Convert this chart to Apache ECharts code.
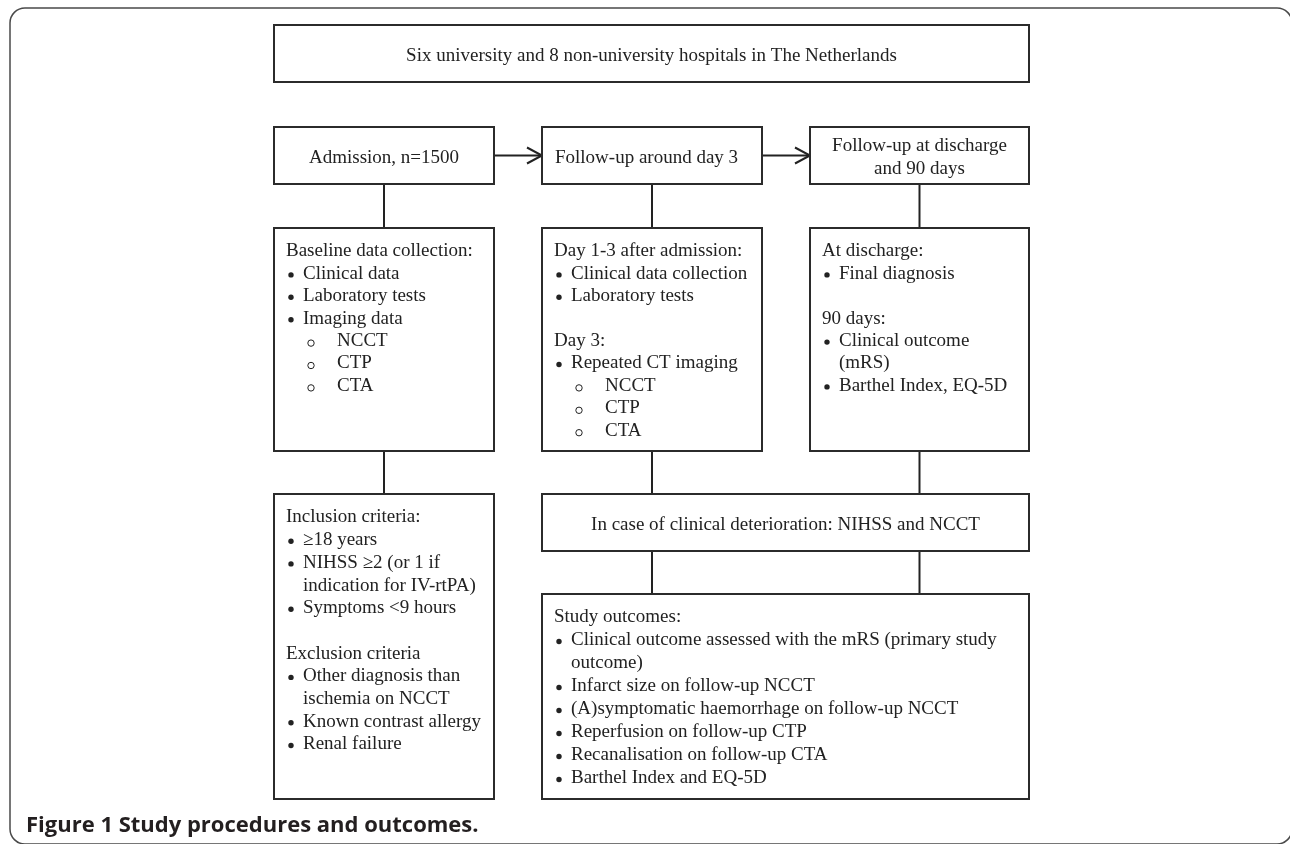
<!DOCTYPE html>
<html><head><meta charset="utf-8">
<script src="https://cdn.jsdelivr.net/npm/echarts@6/dist/echarts.min.js"></script>
<style>html,body{margin:0;padding:0;background:#fff}#c{width:1290px;height:844px}</style>
</head><body><div id="c"></div>
<script>
// ---- text content ----
const captionText = 'Figure 1 Study procedures and outcomes.';
const topText = ['Six university and 8 non-university hospitals in The Netherlands'];
const admissionText = ['Admission, n=1500'];
const day3Title = ['Follow-up around day 3'];
const dischargeTitle = ['Follow-up at discharge', 'and 90 days'];
const baselineLines = [['h','Baseline data collection:'],['b','Clinical data'],['b','Laboratory tests'],['b','Imaging data'],['s','NCCT'],['s','CTP'],['s','CTA']];
const day3Lines = [['h','Day 1-3 after admission:'],['b','Clinical data collection'],['b','Laboratory tests'],['x',''],['h','Day 3:'],['b','Repeated CT imaging'],['s','NCCT'],['s','CTP'],['s','CTA']];
const dischargeLines = [['h','At discharge:'],['b','Final diagnosis'],['x',''],['h','90 days:'],['b','Clinical outcome'],['c','(mRS)'],['b','Barthel Index, EQ-5D']];
const inclusionLines = [['h','Inclusion criteria:'],['b','\u226518 years'],['b','NIHSS \u22652 (or 1 if'],['c','indication for IV-rtPA)'],['b','Symptoms <9 hours'],['x',''],['h','Exclusion criteria'],['b','Other diagnosis than'],['c','ischemia on NCCT'],['b','Known contrast allergy'],['b','Renal failure']];
const deteriorationText = ['In case of clinical deterioration: NIHSS and NCCT'];
const outcomeLines = [['h','Study outcomes:'],['b','Clinical outcome assessed with the mRS (primary study'],['c','outcome)'],['b','Infarct size on follow-up NCCT'],['b','(A)symptomatic haemorrhage on follow-up NCCT'],['b','Reperfusion on follow-up CTP'],['b','Recanalisation on follow-up CTA'],['b','Barthel Index and EQ-5D']];

// ---- layout (separate from content) ----
const boxLayout = [
  [274, 25, 1029, 82],
  [274, 127, 494, 184],
  [542, 127, 762, 184],
  [810, 127, 1029, 184],
  [274, 228, 494, 451],
  [542, 228, 762, 451],
  [810, 228, 1029, 451],
  [274, 494, 494, 799],
  [542, 494, 1029, 551],
  [542, 594, 1029, 799]
];
const boxContent = [
  {mode:'center', lines: topText, lh: 23},
  {mode:'center', lines: admissionText, lh: 23},
  {mode:'left', lines: day3Title, lh: 23},
  {mode:'center', lines: dischargeTitle, lh: 23},
  {mode:'list', lines: baselineLines, lh: 22.4},
  {mode:'list', lines: day3Lines, lh: 22.4},
  {mode:'list', lines: dischargeLines, lh: 22.4},
  {mode:'list', lines: inclusionLines, lh: 22.7},
  {mode:'center', lines: deteriorationText, lh: 23},
  {mode:'list', lines: outcomeLines, lh: 23}
];
// edges: [from, to, kind(0 vertical,1 arrow), column box for x]
const edges = [
  [1, 2, 1, 1], [2, 3, 1, 2],
  [1, 4, 0, 4], [2, 5, 0, 5], [3, 6, 0, 6],
  [4, 7, 0, 4], [5, 8, 0, 5], [6, 8, 0, 6],
  [8, 9, 0, 5], [8, 9, 0, 6]
];

const SERIF = '"Liberation Serif", "Times New Roman", serif';
const FS = 19;
const INK = '#222';
const DY = 2.5;

function txt(text, x, y, align) {
  return {type:'text', style: {text: text, x: x, y: y + DY, fill: INK,
    fontSize: FS, fontFamily: SERIF, align: align, verticalAlign: 'middle'}};
}

function renderBox(params, api) {
  const i = api.value(4);
  const p0 = api.coord([api.value(0), api.value(1)]);
  const p1 = api.coord([api.value(2), api.value(3)]);
  const x0 = Math.min(p0[0], p1[0]), y0 = Math.min(p0[1], p1[1]);
  const w = Math.abs(p1[0] - p0[0]), h = Math.abs(p1[1] - p0[1]);
  const children = [{type:'rect', shape:{x:x0, y:y0, width:w, height:h},
    style:{fill:'#fff', stroke:'#2b2b2b', lineWidth:2}}];
  const c = boxContent[i];
  const n = c.lines.length;
  if (c.mode === 'center' || c.mode === 'left') {
    c.lines.forEach(function (t, k) {
      const y = y0 + h / 2 + (k - (n - 1) / 2) * c.lh;
      if (c.mode === 'center') children.push(txt(t, x0 + w / 2, y, 'center'));
      else children.push(txt(t, x0 + 13, y, 'left'));
    });
  } else {
    c.lines.forEach(function (ln, k) {
      const y = y0 + 21 + k * c.lh;
      const kind = ln[0], t = ln[1];
      if (kind === 'h') children.push(txt(t, x0 + 12, y, 'left'));
      else if (kind === 'b') {
        children.push({type:'circle', shape:{cx:x0 + 17, cy:y + DY + 1, r:2.7}, style:{fill:INK}});
        children.push(txt(t, x0 + 29, y, 'left'));
      } else if (kind === 'c') children.push(txt(t, x0 + 29, y, 'left'));
      else if (kind === 's') {
        children.push({type:'circle', shape:{cx:x0 + 37, cy:y + DY + 2, r:3.2}, style:{fill:'none', stroke:INK, lineWidth:1}});
        children.push(txt(t, x0 + 63, y, 'left'));
      }
    });
  }
  return {type:'group', children: children};
}

function renderEdge(params, api) {
  const a = boxLayout[api.value(0)], b = boxLayout[api.value(1)];
  const kind = api.value(2), col = boxLayout[api.value(3)];
  const style = {stroke:'#222', lineWidth:2, fill:'none'};
  if (kind === 0) {
    const x = (col[0] + col[2]) / 2;
    const s = api.coord([x, a[3]]), e = api.coord([x, b[1]]);
    return {type:'line', shape:{x1:s[0], y1:s[1], x2:e[0], y2:e[1]}, style: style};
  }
  const y = (a[1] + a[3]) / 2;
  const s = api.coord([a[2], y]), e = api.coord([b[0], y]);
  return {type:'group', children:[
    {type:'line', shape:{x1:s[0], y1:s[1], x2:e[0], y2:e[1]}, style: style},
    {type:'polyline', shape:{points:[[e[0] - 15, e[1] - 8], [e[0], e[1]], [e[0] - 15, e[1] + 8]]}, style: style}
  ]};
}

const chart = echarts.init(document.getElementById('c'), null, {renderer:'canvas'});
chart.setOption({
  animation: false,
  backgroundColor: '#fff',
  title: {text: captionText, left: 26, top: 812, padding: 0,
    textStyle: {fontFamily: '"Open Sans", "Noto Sans", sans-serif', fontWeight: 'bold', fontSize: 22, color: '#231f20', lineHeight: 28}},
  grid: {left: 0, right: 0, top: 0, bottom: 0},
  xAxis: {type: 'value', min: 0, max: 1290, show: false},
  yAxis: {type: 'value', min: 0, max: 844, inverse: true, show: false},
  graphic: [{type:'rect', z: -1, shape:{x:10, y:8, width:1282, height:836, r:15},
    style:{fill:'none', stroke:'#4a4a4a', lineWidth:1.5}, silent: true}],
  series: [
    {type:'custom', renderItem: renderEdge, data: edges, silent: true, z: 1},
    {type:'custom', renderItem: renderBox, silent: true, z: 2,
      data: boxLayout.map(function (b, i) { return b.concat([i]); })}
  ]
});
</script></body></html>
